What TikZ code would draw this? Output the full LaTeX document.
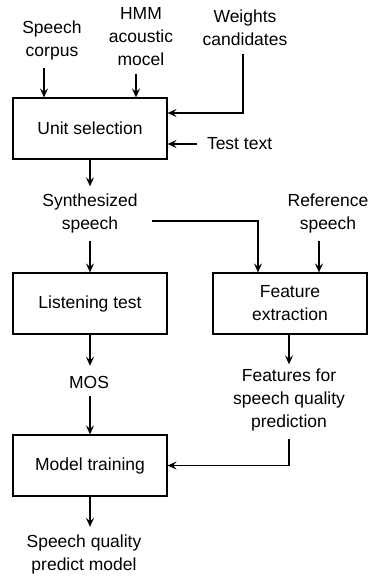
\documentclass[tikz,border=0pt]{standalone}
\usepackage{fontspec}
\setmainfont{Liberation Sans}
\usetikzlibrary{arrows.meta,calc}
\begin{document}
\begin{tikzpicture}[x=1pt,y=-1pt,
  font=\fontsize{17.5}{23}\selectfont,
  box/.style={draw,line width=1.2pt,minimum width=154pt,minimum height=61pt,inner sep=0pt,align=center},
  lbl/.style={inner sep=0pt,outer sep=0pt,align=center},
  arr/.style={line width=1.4pt,-{Stealth[length=9pt,width=8pt,inset=3.5pt]}}]
\useasboundingbox (0,0) rectangle (377,579);
% boxes
\node[box] (us) at (90,128.5) {Unit selection};
\node[box] (lt) at (90,303.5) {Listening test};
\node[box] (fe) at (290,303.5) {Feature\\extraction};
\node[box] (mt) at (90,465.5) {Model training};
% labels
\node[lbl] (sc) at (52,40) {Speech\\corpus};
\node[lbl] (hmm) at (141,36.5) {HMM\\acoustic\\mocel};
\node[lbl] (wc) at (245,28) {Weights\\candidates};
\node[lbl,anchor=west] (tt) at (207,144) {Test text};
\node[lbl] (ss) at (90,213) {Synthesized\\speech};
\node[lbl] (rs) at (328,213) {Reference\\speech};
\node[lbl] (mos) at (89,382) {MOS};
\node[lbl] (ff) at (289,399.5) {Features for\\speech quality\\prediction};
\node[lbl] (sq) at (84,554.5) {Speech quality\\predict model};
% connectors
\draw[arr] ([xshift=-8pt,yshift=-8pt]sc.south) -- ([xshift=-8pt]sc.south |- us.north);
\draw[arr] ([xshift=-5pt,yshift=-8pt]hmm.south) -- ([xshift=-5pt]hmm.south |- us.north);
\draw[arr] ([xshift=-2pt,yshift=-8pt]wc.south) |- ([yshift=15.5pt]us.east);
\draw[arr] ([xshift=-10pt]tt.west) -- (tt.west -| us.east);
\draw[arr] (us.south) -- ([yshift=7pt]ss.north -| us.south);
\draw[arr] ([yshift=-8pt]ss.south -| lt.north) -- (lt.north);
\draw[arr] ([xshift=14pt,yshift=-8pt]ss.east) -| ([xshift=-32pt]fe.north);
\draw[arr] ([xshift=-9pt,yshift=-8pt]rs.south) -- ([xshift=-9pt]rs.south |- fe.north);
\draw[arr] (lt.south) -- ([yshift=10pt]mos.north -| lt.south);
\draw[arr] ([xshift=-1pt]fe.south) -- ([xshift=-1pt,yshift=4pt]ff.north -| fe.south);
\draw[arr] ([yshift=-8pt]mos.south -| mt.north) -- (mt.north);
\draw[arr] ([yshift=-8pt]ff.south) |- (mt.east);
\draw[arr] (mt.south) -- ([yshift=8pt]sq.north -| mt.south);
\end{tikzpicture}
\end{document}
